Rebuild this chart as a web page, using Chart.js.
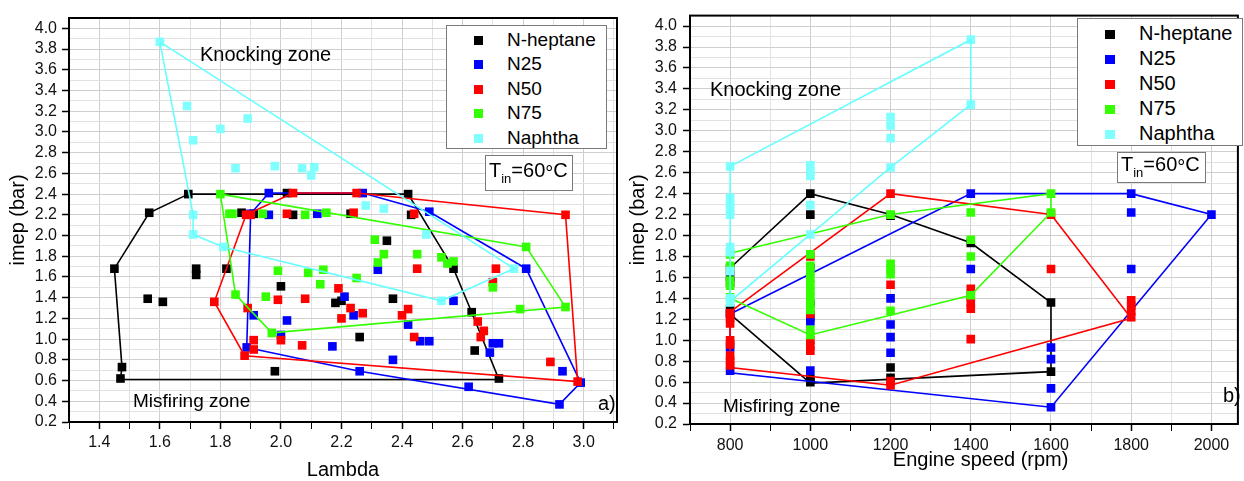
<!DOCTYPE html>
<html><head><meta charset="utf-8">
<script src="https://cdn.jsdelivr.net/npm/chart.js@4.4.1/dist/chart.umd.min.js"></script>
<style>
html,body{margin:0;padding:0;background:#fff;}
#wrap{position:relative;width:1244px;height:481px;overflow:hidden;font-family:"Liberation Sans",Arial,sans-serif;color:#000;}
.cv{position:absolute;top:0;}
.t{position:absolute;white-space:nowrap;line-height:1;z-index:5;}
.box{position:absolute;box-sizing:border-box;border:1px solid #7a7a7a;background:#fff;z-index:4;}
.mk{position:absolute;z-index:5;}
</style></head><body>
<div id="wrap">
<canvas id="ca" class="cv" style="left:0" width="625" height="481"></canvas>
<canvas id="cb" class="cv" style="left:625px" width="619" height="481"></canvas>
</div>
<script>
// ---------------- DATA ----------------
const seriesNames = ['N-heptane', 'N25', 'N50', 'N75', 'Naphtha'];

const lambdaTickLabels = ['1.4','1.6','1.8','2.0','2.2','2.4','2.6','2.8','3.0'];
const imepTickLabels = ['0.2','0.4','0.6','0.8','1.0','1.2','1.4','1.6','1.8','2.0','2.2','2.4','2.6','2.8','3.0','3.2','3.4','3.6','3.8','4.0'];
const speedTickLabels = ['800','1000','1200','1400','1600','1800','2000'];

// Panel a) : [lambda, imep]
const lamHeptane = [[1.45,1.68],[1.475,0.73],[1.47,0.62],[1.565,2.22],[1.694,2.40],[1.56,1.39],[1.61,1.36],[1.72,1.68],[1.72,1.62],[1.82,1.68],[2.00,1.51],[1.98,0.69],[1.87,2.22],[1.91,2.21],[2.04,2.20],[2.02,2.41],[2.23,2.21],[2.35,1.95],[2.42,2.40],[2.43,2.20],[2.18,1.35],[2.20,1.37],[2.37,1.39],[2.26,1.02],[2.57,1.68],[2.63,1.26],[2.64,0.89],[2.72,0.62]];
const lamHeptaneHull = [[1.694,2.40],[2.42,2.40],[2.57,1.68],[2.63,1.26],[2.72,0.61],[1.47,0.61],[1.475,0.73],[1.45,1.68],[1.565,2.22],[1.694,2.40]];
const lamN25 = [[1.887,0.92],[1.90,2.21],[1.96,2.41],[1.96,2.20],[2.12,2.21],[2.27,2.41],[2.49,2.23],[2.21,1.41],[2.24,1.23],[1.91,1.23],[2.02,1.18],[2.00,1.04],[2.17,0.93],[2.37,0.80],[2.32,1.67],[2.81,1.68],[2.99,0.58],[2.92,0.37],[2.26,0.69],[2.62,0.54],[2.42,1.14],[2.46,0.98],[2.49,0.98],[2.57,1.37],[2.70,0.96],[2.72,0.96],[2.69,0.87],[2.93,0.69]];
const lamN25Hull = [[1.887,0.92],[1.90,2.21],[1.96,2.41],[2.27,2.41],[2.49,2.23],[2.81,1.68],[2.99,0.58],[2.92,0.37],[2.26,0.69],[1.887,0.92]];
const lamN50 = [[1.885,2.20],[1.90,2.20],[2.02,2.21],[2.04,2.41],[2.25,2.41],[2.24,2.22],[2.44,2.21],[2.94,2.20],[1.78,1.36],[1.89,1.30],[1.99,1.38],[2.08,1.39],[2.19,1.49],[2.23,1.30],[2.20,1.20],[2.27,1.25],[1.91,0.99],[1.91,0.90],[2.00,0.99],[2.07,0.94],[1.88,0.84],[2.40,1.23],[2.42,1.29],[2.44,1.02],[2.45,1.68],[2.71,1.68],[2.70,1.55],[2.65,1.17],[2.67,1.08],[2.66,1.02],[2.89,0.78],[2.98,0.59]];
const lamN50Hull = [[1.885,2.20],[2.04,2.41],[2.25,2.41],[2.94,2.20],[2.98,0.59],[1.88,0.84],[1.78,1.36],[1.885,2.20]];
const lamN75 = [[1.80,2.40],[1.83,2.21],[1.84,2.21],[1.94,2.21],[2.08,2.20],[2.15,2.22],[2.31,1.96],[2.34,1.82],[2.32,1.74],[2.45,1.82],[1.99,1.66],[2.09,1.64],[2.14,1.67],[2.13,1.53],[2.25,1.59],[1.85,1.43],[1.95,1.41],[1.97,1.06],[2.53,1.79],[2.55,1.73],[2.57,1.75],[2.70,1.50],[2.81,1.89],[2.94,1.31],[2.79,1.29]];
const lamN75Hull = [[1.80,2.40],[2.81,1.89],[2.94,1.31],[1.97,1.06],[1.85,1.43],[1.80,2.40]];
const lamNaphtha = [[1.60,3.87],[1.69,3.25],[1.71,2.92],[1.80,3.03],[1.89,3.13],[1.85,2.65],[1.98,2.67],[2.07,2.65],[2.11,2.66],[2.10,2.58],[1.71,2.20],[1.71,2.01],[1.81,1.89],[2.28,2.29],[2.34,2.26],[2.48,2.01],[2.77,1.68],[2.53,1.37]];
const lamNaphthaHull = [[1.60,3.87],[2.77,1.68],[2.53,1.37],[1.81,1.89],[1.71,2.01],[1.71,2.20],[1.60,3.87]];

// Panel b) : [engine speed, imep]
const rpmHeptane = [[800,1.69],[800,1.61],[800,1.55],[800,1.30],[800,1.25],[1000,2.40],[1000,2.20],[1000,1.69],[1000,1.35],[1000,0.63],[1000,0.60],[1200,2.19],[1200,0.74],[1200,0.64],[1400,1.93],[1600,1.36],[1600,0.70]];
const rpmHeptaneHull = [[800,1.69],[1000,2.40],[1200,2.20],[1400,1.93],[1600,1.36],[1600,0.70],[1000,0.59],[800,1.25],[800,1.69]];
const rpmN25 = [[800,1.25],[800,0.93],[800,0.71],[1000,1.22],[1000,1.18],[1000,0.71],[1200,1.40],[1200,1.15],[1200,1.03],[1200,0.88],[1400,2.40],[1400,1.68],[1600,0.93],[1600,0.82],[1600,0.54],[1600,0.36],[1800,2.40],[1800,2.22],[1800,1.68],[2000,2.20]];
const rpmN25Hull = [[800,1.25],[1400,2.40],[1800,2.40],[2000,2.20],[1600,0.36],[800,0.69],[800,1.25]];
const rpmN50 = [[800,1.26],[800,1.21],[800,1.16],[800,1.00],[800,0.96],[800,0.85],[800,0.80],[800,0.76],[1000,1.80],[1000,1.25],[1000,1.00],[1000,0.95],[1000,0.90],[1200,2.40],[1200,1.53],[1200,0.61],[1200,0.57],[1400,1.49],[1400,1.42],[1400,1.36],[1400,1.30],[1400,1.01],[1600,2.20],[1600,1.68],[1800,1.38],[1800,1.33],[1800,1.28],[1800,1.22]];
const rpmN50Hull = [[800,1.27],[1200,2.40],[1600,2.20],[1800,1.21],[1200,0.57],[800,0.74],[800,1.27]];
const rpmN75 = [[800,1.82],[800,1.71],[800,1.57],[800,1.52],[800,1.41],[1000,1.82],[1000,1.71],[1000,1.65],[1000,1.59],[1000,1.53],[1000,1.47],[1000,1.41],[1000,1.35],[1000,1.29],[1000,1.10],[1000,1.05],[1200,2.20],[1200,1.73],[1200,1.68],[1200,1.63],[1200,1.28],[1400,2.22],[1400,1.96],[1400,1.80],[1400,1.43],[1600,2.40],[1600,2.22]];
const rpmN75Hull = [[800,1.83],[1200,2.20],[1600,2.40],[1600,2.22],[1400,1.43],[1000,1.05],[800,1.40],[800,1.83]];
const rpmNaphtha = [[800,2.66],[800,2.36],[800,2.30],[800,2.25],[800,2.20],[800,1.89],[800,1.84],[800,1.66],[800,1.40],[800,1.36],[1000,2.67],[1000,2.61],[1000,2.57],[1000,2.29],[1000,2.01],[1200,3.13],[1200,3.05],[1200,2.93],[1200,2.65],[1400,3.87],[1400,3.25]];
const rpmNaphthaHull = [[800,2.66],[1400,3.87],[1400,3.25],[1200,2.65],[1000,2.01],[800,1.37],[800,2.66]];

// ---------------- STYLE ----------------
const FONT = '"Liberation Sans", Arial, sans-serif';
const pointColors = ['#000000', '#0000ff', '#ff0000', '#33ff00', '#80ffff'];
const lineColors  = ['#000000', '#0000ff', '#ff0000', '#33ff00', '#66ffff'];

function toXY(a){ return a.map(p => ({x:p[0], y:p[1]})); }
function range(a, b, step){ const out=[]; for(let v=a; v<=b+1e-9; v+=step) out.push(Math.round(v*1000)/1000); return out; }
function labelFor(labels){ return v => { const l = labels.find(s => Math.abs(parseFloat(s) - v) < 1e-6); return l === undefined ? '' : l; }; }

function buildDatasets(ptsArr, hullArr){
  const ds = []; let order = 100;
  for (let i = 0; i < seriesNames.length; i++){
    ds.push({label: seriesNames[i], data: toXY(ptsArr[i]), showLine:false, pointStyle:'rect',
      pointRadius:6.1, pointBackgroundColor: pointColors[i], pointBorderWidth:0, pointBorderColor: pointColors[i], order: order--});
    ds.push({label: seriesNames[i] + ' boundary', data: toXY(hullArr[i]), showLine:true, fill:false, tension:0,
      borderColor: lineColors[i], borderWidth:1.6, pointRadius:0, order: order--});
  }
  return ds;
}

const framePlugin = {id:'frame', afterDatasetsDraw(c){ const a=c.chartArea, x=c.ctx; x.save(); x.strokeStyle='#000'; x.lineWidth=2;
  x.strokeRect(a.left, a.top, a.right-a.left, a.bottom-a.top); x.restore(); }};

function makeChart(id, opt){
  const xLab = labelFor(opt.xLabels), yLab = labelFor(imepTickLabels);
  const xVals = range(opt.xMin, opt.xTickMax, opt.xStep), yVals = range(0.2, 4.1, 0.1);
  return new Chart(document.getElementById(id), {
    type:'scatter',
    data:{datasets: buildDatasets(opt.pts, opt.hulls)},
    plugins:[framePlugin],
    options:{
      responsive:false, animation:false, events:[],
      layout:{padding: opt.padding},
      plugins:{legend:{display:false}, tooltip:{enabled:false}},
      scales:{
        x:{type:'linear', min:opt.xMin, max:opt.xMax,
          afterBuildTicks: s => { s.ticks = xVals.map(v => ({value:v})); },
          afterFit: s => { s.height = opt.xAxisH; },
          ticks:{autoSkip:false, maxRotation:0, minRotation:0, padding:opt.xTickPad, color:'#111', font:{family:FONT, size:16}, callback: v => xLab(v)},
          grid:{color: ctx => (ctx.tick && xLab(ctx.tick.value) !== '') ? '#cfcfcf' : '#e2e2e2', lineWidth:1,
                tickLength:7, tickColor:'#000', tickWidth: ctx => (ctx.tick && xLab(ctx.tick.value) !== '') ? 1.5 : 1},
          border:{display:true, color:'#000', width:2},
          title:{display:true, text:opt.xTitle, color:'#000', font:{family:FONT, size:20}, padding:{top:0, bottom:opt.xTitlePad}}
        },
        y:{type:'linear', min:0.2, max:4.1,
          afterBuildTicks: s => { s.ticks = yVals.map(v => ({value:v})); },
          afterFit: s => { s.width = opt.yAxisW; },
          ticks:{autoSkip:false, padding:opt.yTickPad, color:'#111', font:{family:FONT, size:16}, callback: v => yLab(v)},
          grid:{color: ctx => (ctx.tick && yLab(ctx.tick.value) !== '') ? '#cfcfcf' : '#e2e2e2', lineWidth:1,
                tickLength:7, tickColor: ctx => (ctx.tick && yLab(ctx.tick.value) !== '') ? '#000' : 'rgba(0,0,0,0)', tickWidth:1.5},
          border:{display:true, color:'#000', width:2},
          title:{display:true, text:'imep (bar)', color:'#000', font:{family:FONT, size:20}, padding:{top:opt.yTitlePad, bottom:0}}
        }
      }
    }
  });
}

makeChart('ca', {
  pts:[lamHeptane, lamN25, lamN50, lamN75, lamNaphtha],
  hulls:[lamHeptaneHull, lamN25Hull, lamN50Hull, lamN75Hull, lamNaphthaHull],
  xMin:1.3, xMax:3.11, xTickMax:3.1, xStep:0.1, xLabels:lambdaTickLabels, xTitle:'Lambda',
  padding:{top:18, right:8, left:0, bottom:0}, xAxisH:59, yAxisW:69, xTickPad:4, yTickPad:5, xTitlePad:-1, yTitlePad:6
});
makeChart('cb', {
  pts:[rpmHeptane, rpmN25, rpmN50, rpmN75, rpmNaphtha],
  hulls:[rpmHeptaneHull, rpmN25Hull, rpmN50Hull, rpmN75Hull, rpmNaphthaHull],
  xMin:700, xMax:2066, xTickMax:2000, xStep:100, xLabels:speedTickLabels, xTitle:'      Engine speed (rpm)',
  padding:{top:8, right:2, left:0, bottom:0}, xAxisH:57, yAxisW:65, xTickPad:5, yTickPad:6, xTitlePad:9, yTitlePad:1
});

// ---------------- OVERLAY TEXT (legends, annotations) ----------------
const wrap = document.getElementById('wrap');
function addText(txt, left, baseline, size, html){
  const d = document.createElement('div'); d.className='t';
  d.style.left = left+'px'; d.style.top = (baseline - 0.8465*size)+'px'; d.style.fontSize = size+'px';
  if (html) d.innerHTML = txt; else d.textContent = txt;
  wrap.appendChild(d);
}
function addBox(l,t,w,h){ const d=document.createElement('div'); d.className='box';
  d.style.left=l+'px'; d.style.top=t+'px'; d.style.width=w+'px'; d.style.height=h+'px'; wrap.appendChild(d); }
function addMarker(cx, cy, w, h, col){ const d=document.createElement('div'); d.className='mk';
  d.style.left=(cx-w/2)+'px'; d.style.top=(cy-h/2)+'px'; d.style.width=w+'px'; d.style.height=h+'px'; d.style.background=col; wrap.appendChild(d); }

// panel a
addBox(446, 25, 161, 124);
[45.7, 70.2, 94.7, 119.2, 143.7].forEach((b,i) => { addMarker(478, b-5.5, 9, 9, pointColors[i]); addText(seriesNames[i], 507, b, 19); });
addBox(485, 155, 88, 36);
addText('T<span style="font-size:13px;position:relative;top:6px">in</span>=60<span style="position:relative;top:3px">°</span>C', 489, 176.7, 20, true);
addText('Knocking zone', 200, 60.5, 20);
addText('Misfiring zone', 133, 407, 19);
addText('a)', 598, 410, 20);

// panel b
addBox(1077, 18, 166, 128);
[40, 65, 90, 115, 140].forEach((b,i) => { addMarker(1110, b-6, 10, 9, pointColors[i]); addText(seriesNames[i], 1139, b, 20); });
addBox(1117, 152, 89, 31);
addText('T<span style="font-size:13px;position:relative;top:6px">in</span>=60<span style="position:relative;top:3px">°</span>C', 1121, 170.7, 20, true);
addText('Knocking zone', 710, 95.7, 20);
addText('Misfiring zone', 723, 412.3, 19);
addText('b)', 1223, 402.3, 20);
</script>
</body></html>
